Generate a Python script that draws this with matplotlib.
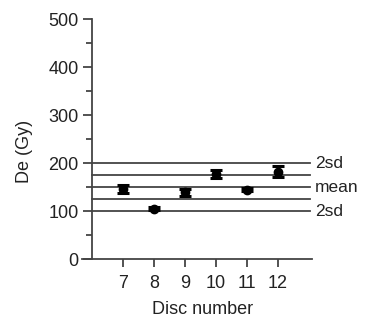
import matplotlib.pyplot as plt
from matplotlib.ticker import MultipleLocator

plt.rcParams['font.family'] = ['Liberation Sans', 'DejaVu Sans']

# equivalent dose per disc
discs = [7, 8, 9, 10, 11, 12]
de = [146, 105, 139, 177, 144, 182]
de_err = [8, 3, 7, 8, 3, 12]

# reference lines: mean and +/- 1, 2 standard deviations
mean_de = 150
sd_de = 25
sd_steps = [-2, -1, 0, 1, 2]
line_labels = {2: "2sd", 0: "mean", -2: "2sd"}

ink = "#222222"
line_col = "#444444"

fig = plt.figure(figsize=(3.69, 3.2), dpi=100)
ax = fig.add_axes([0.2222, 0.1906, 0.6233, 0.7500])

for k in sd_steps:
    yv = mean_de + k * sd_de
    ax.plot([6, 13.03], [yv, yv], color=line_col, lw=1.3, zorder=1)
    if k in line_labels:
        ax.text(13.2, yv, line_labels[k], ha="left", va="center",
                fontsize=12.5, color=ink, clip_on=False)

ax.errorbar(discs, de, yerr=de_err, fmt="o", color="black",
            markersize=6, elinewidth=2.2, capsize=4.5, capthick=2.2,
            zorder=3)

ax.set_xlim(5.68, 13.1)
ax.set_ylim(0, 500)

for side in ("top", "right"):
    ax.spines[side].set_visible(False)
ax.spines["left"].set_position(("data", 6))
for side in ("left", "bottom"):
    ax.spines[side].set_linewidth(1.3)
    ax.spines[side].set_color(line_col)

ax.set_xticks(discs)
ax.yaxis.set_major_locator(MultipleLocator(100))
ax.yaxis.set_minor_locator(MultipleLocator(50))
ax.tick_params(axis="both", which="major", length=6.5, width=1.3,
               color=line_col, labelsize=13, labelcolor=ink, pad=3)
ax.tick_params(axis="x", which="major", length=6, pad=5.5)
ax.tick_params(axis="y", which="minor", length=4, width=1.3, color=line_col)

ax.set_xlabel("Disc number", fontsize=13, color=ink)
ax.set_ylabel("De (Gy)", fontsize=13, color=ink)
ax.xaxis.set_label_coords(0.526, -0.175)
ax.yaxis.set_label_coords(-0.215, 0.45)

fig.savefig("out.png", dpi=100)
